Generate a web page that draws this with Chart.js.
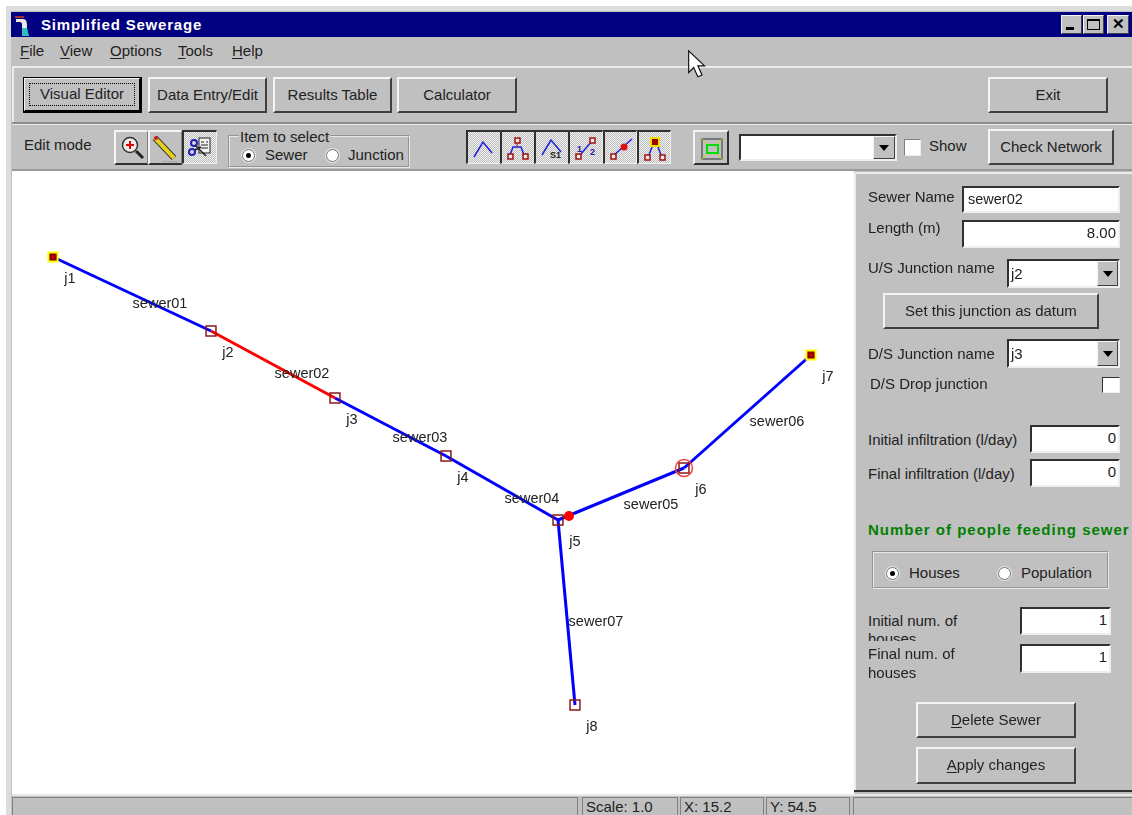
<!DOCTYPE html>
<html>
<head>
<meta charset="utf-8">
<title>Simplified Sewerage</title>
<script src="https://cdn.jsdelivr.net/npm/chart.js@4/dist/chart.umd.min.js"></script>
<style>
  html, body { margin: 0; padding: 0; background: #fff; }
  body { width: 1132px; height: 815px; overflow: hidden; position: relative; font: 15px "Liberation Sans", Arial, sans-serif; color: #222; }
  #win { position: absolute; left: 0; top: 0; width: 1132px; height: 815px; overflow: hidden; filter: blur(0.35px); }
  #win div, #win svg, #win canvas { position: absolute; }
  .bg { background: #c0c0c0; }
  .txt { white-space: nowrap; line-height: 18px; }
  .btn { background: #c0c0c0; border-top: 2px solid #f4f4f4; border-left: 2px solid #f4f4f4; border-right: 2px solid #404040; border-bottom: 2px solid #404040; box-sizing: border-box; display: flex; align-items: center; justify-content: center; white-space: nowrap; padding-bottom: 2px; }
  .sunken { background: #fff; border-top: 2px solid #303030; border-left: 2px solid #303030; border-right: 2px solid #eee; border-bottom: 2px solid #eee; box-sizing: border-box; line-height: 22px; white-space: nowrap; padding: 0 2px; font-size: 14.5px; }
  .right { text-align: right; font-size: 15px; }
  .dither { background: repeating-conic-gradient(#bdbdbd 0 25%, #f2f2f2 0 50%) 0 0/2px 2px; border-top: 2px solid #303030; border-left: 2px solid #303030; border-right: 1px solid #eee; border-bottom: 1px solid #eee; box-sizing: border-box; }
  .tool { background: #c0c0c0; border-top: 2px solid #f4f4f4; border-left: 2px solid #f4f4f4; border-right: 1px solid #808080; border-bottom: 2px solid #303030; box-sizing: border-box; }
  .group { border: 2px groove #e8e8e8; box-sizing: border-box; }
  .radio { width: 13px; height: 13px; border-radius: 50%; background: #fff; border: 1px solid #707070; box-sizing: border-box; box-shadow: 0 0 0 1px #e8e8e8; }
  .dot { width: 5px; height: 5px; left: 3px; top: 3px; background: #000; border-radius: 50%; }
  .arrow { background: #c0c0c0; border-top: 1px solid #f4f4f4; border-left: 1px solid #f4f4f4; border-right: 1px solid #404040; border-bottom: 1px solid #404040; box-sizing: border-box; }
  .arrow::after { content: ""; position: absolute; left: 50%; top: 50%; margin: -3px 0 0 -5px; border-left: 5px solid transparent; border-right: 5px solid transparent; border-top: 6px solid #000; }
  u { text-underline-offset: 2px; }
</style>
</head>
<body>
<div id="win">
  <!-- window frame -->
  <div style="left:6px;top:6px;width:1126px;height:809px;background:#dcdcdc"></div>
  <div class="bg" style="left:11px;top:11px;width:1121px;height:804px"></div>

  <!-- title bar -->
  <div style="left:11px;top:12px;width:1121px;height:25px;background:#000080"></div>
  <svg style="left:14px;top:13px" width="16" height="24" viewBox="0 0 16 24">
    <path d="M1 3h9v2H1z" fill="#a03030"/><path d="M2 6h7c3 0 4 3 4 6v4H8v-5c0-1-1-2-2-2H2z" fill="#e8e8e8"/>
    <path d="M8 15h5l2 8H8z" fill="#30c0c0"/>
  </svg>
  <div class="txt" style="left:41px;top:16px;color:#fff;font-weight:bold;font-size:15px;letter-spacing:.8px">Simplified Sewerage</div>
  <div class="btn" style="left:1061px;top:15px;width:21px;height:19px;border-width:1px"><div style="left:4px;bottom:3px;width:8px;height:3px;background:#000"></div></div>
  <div class="btn" style="left:1083px;top:15px;width:21px;height:19px;border-width:1px"><div style="left:3px;top:3px;width:13px;height:11px;border:1px solid #000;border-top-width:2px;box-sizing:border-box"></div></div>
  <div class="btn" style="left:1107px;top:15px;width:22px;height:19px;border-width:1px;font-weight:bold;font-size:15px;color:#000">✕</div>

  <!-- menu -->
  <div class="txt" style="left:20px;top:42px"><u>F</u>ile</div>
  <div class="txt" style="left:60px;top:42px"><u>V</u>iew</div>
  <div class="txt" style="left:110px;top:42px"><u>O</u>ptions</div>
  <div class="txt" style="left:178px;top:42px"><u>T</u>ools</div>
  <div class="txt" style="left:232px;top:42px"><u>H</u>elp</div>
  <div style="left:12px;top:66px;width:1120px;height:2px;background:#ececec"></div>
  <div style="left:12px;top:68px;width:2px;height:54px;background:#ececec"></div>
  <div style="left:12px;top:122px;width:1120px;height:2px;background:#8c8c8c"></div>
  <div style="left:12px;top:124px;width:1120px;height:1px;background:#ececec"></div>

  <!-- main buttons -->
  <div class="btn" style="left:23px;top:77px;width:119px;height:36px;border-right:3px solid #000;border-bottom:3px solid #000;outline:1px solid #000;outline-offset:-1px"><span>Visual Editor</span><div style="left:4px;top:4px;right:4px;bottom:4px;border:1px dotted #000"></div></div>
  <div class="btn" style="left:148px;top:77px;width:119px;height:36px">Data Entry/Edit</div>
  <div class="btn" style="left:273px;top:77px;width:119px;height:36px">Results Table</div>
  <div class="btn" style="left:397px;top:77px;width:120px;height:36px">Calculator</div>
  <div class="btn" style="left:988px;top:77px;width:120px;height:36px">Exit</div>

  <!-- edit row -->
  <div class="txt" style="left:24px;top:136px">Edit mode</div>
  <div class="tool" style="left:114px;top:130px;width:34px;height:35px">
    <svg style="left:2px;top:2px" width="28" height="28" viewBox="0 0 28 28"><circle cx="12" cy="11" r="7.5" fill="#eee" stroke="#333" stroke-width="1.5"/><path d="M12 7v8M8 11h8" stroke="#e00000" stroke-width="2"/><path d="M18 17l7 7" stroke="#222" stroke-width="3"/></svg>
  </div>
  <div class="tool" style="left:148px;top:130px;width:34px;height:35px">
    <svg style="left:2px;top:2px" width="28" height="28" viewBox="0 0 28 28"><path d="M3 4l19 20" stroke="#222" stroke-width="6"/><path d="M3 4l19 20" stroke="#e8d020" stroke-width="4"/><circle cx="4" cy="4" r="2" fill="#c02020"/><path d="M10 28h16" stroke="#888"/></svg>
  </div>
  <div class="dither" style="left:182px;top:130px;width:35px;height:34px">
    <svg style="left:2px;top:2px" width="28" height="28" viewBox="0 0 28 28"><rect x="13" y="4" width="11" height="15" fill="#f4f4f4" stroke="#222"/><path d="M15 8h3M20 8h2M15 11h7M15 14h7" stroke="#222"/><circle cx="8" cy="9" r="3" fill="none" stroke="#2020c0" stroke-width="2"/><circle cx="6" cy="18" r="3" fill="none" stroke="#2020c0" stroke-width="2"/><path d="M9 11l11 11M9 16l6-3" stroke="#222" stroke-width="1.5"/></svg>
  </div>
  <div class="group" style="left:228px;top:135px;width:182px;height:33px"></div>
  <div class="txt bg" style="left:239px;top:128px;padding:0 1px">Item to select</div>
  <div class="radio" style="left:242px;top:149px"><div class="dot"></div></div>
  <div class="txt" style="left:265px;top:146px">Sewer</div>
  <div class="radio" style="left:326px;top:149px"></div>
  <div class="txt" style="left:348px;top:146px">Junction</div>

  <div class="dither" style="left:466px;top:130px;width:35px;height:34px"><svg style="left:3px;top:3px" width="26" height="26" viewBox="0 0 26 26"><path d="M3 22l9-15 9 11" fill="none" stroke="#2020e0" stroke-width="1.5"/></svg></div>
  <div class="dither" style="left:500px;top:130px;width:35px;height:34px"><svg style="left:3px;top:3px" width="26" height="26" viewBox="0 0 26 26"><path d="M5 20l3-8h8l3 8" fill="none" stroke="#2020e0" stroke-width="1.5"/><path d="M10 3h5v5h-5zM3 19h5v5H3zM18 19h5v5h-5z" fill="#eee" stroke="#a01010" stroke-width="1.5"/><path d="M12 8v4" stroke="#a01010"/></svg></div>
  <div class="dither" style="left:534px;top:130px;width:35px;height:34px"><svg style="left:3px;top:3px" width="26" height="26" viewBox="0 0 26 26"><path d="M3 20l9-15 10 12" fill="none" stroke="#2020e0" stroke-width="1.5"/><text x="11" y="23" font-size="9" font-weight="bold" fill="#222" font-family="Liberation Sans">S1</text></svg></div>
  <div class="dither" style="left:568px;top:130px;width:35px;height:34px"><svg style="left:3px;top:3px" width="26" height="26" viewBox="0 0 26 26"><path d="M7 20L19 6" stroke="#2020e0" stroke-width="1.5"/><path d="M17 3h5v5h-5zM3 19h5v5H3z" fill="#eee" stroke="#a01010" stroke-width="1.5"/><text x="4" y="17" font-size="9" font-weight="bold" fill="#2020a0" font-family="Liberation Sans">1</text><text x="17" y="20" font-size="9" font-weight="bold" fill="#2020a0" font-family="Liberation Sans">2</text></svg></div>
  <div class="dither" style="left:603px;top:130px;width:34px;height:34px"><svg style="left:3px;top:3px" width="26" height="26" viewBox="0 0 26 26"><path d="M6 20L24 4" stroke="#2020e0" stroke-width="1.5"/><circle cx="16" cy="12" r="3.5" fill="#e01010"/><path d="M3 19h5v5H3z" fill="#eee" stroke="#a01010" stroke-width="1.5"/></svg></div>
  <div class="dither" style="left:637px;top:130px;width:34px;height:34px"><svg style="left:3px;top:3px" width="26" height="26" viewBox="0 0 26 26"><path d="M10 12l-3 8M16 12l3 8" stroke="#2020e0" stroke-width="1.5"/><rect x="9" y="3" width="8" height="8" fill="#a00000" stroke="#f0e000" stroke-width="2"/><path d="M3 20h5v5H3zM18 20h5v5h-5z" fill="#eee" stroke="#a01010" stroke-width="1.5"/></svg></div>

  <div class="tool" style="left:693px;top:130px;width:36px;height:35px;border-right:2px solid #303030">
    <svg style="left:5px;top:5px" width="24" height="24" viewBox="0 0 24 24"><rect x="2" y="2" width="20" height="20" fill="none" stroke="#303030"/><path d="M2 2l6 6M22 2l-6 6M2 22l6-6M22 22l-6-6" stroke="#d8d000"/><rect x="7" y="8" width="11" height="8" fill="none" stroke="#00e000" stroke-width="2"/></svg>
  </div>
  <div class="sunken" style="left:739px;top:134px;width:158px;height:27px"></div>
  <div class="arrow" style="left:873px;top:136px;width:22px;height:23px"></div>
  <div class="sunken" style="left:904px;top:139px;width:17px;height:17px;border-width:1px;border-color:#808080 #eee #eee #808080"></div>
  <div class="txt" style="left:929px;top:137px">Show</div>
  <div class="btn" style="left:988px;top:129px;width:126px;height:36px">Check Network</div>

  <!-- drawing area -->
  <div style="left:12px;top:169px;width:842px;height:2px;background:#9a9a9a"></div>
  <div style="left:854px;top:169px;width:278px;height:2px;background:#9a9a9a"></div>
  <canvas id="network" width="842" height="623" style="left:12px;top:171px;background:#fff"></canvas>
  <div style="left:853px;top:172px;width:279px;height:2px;background:#ececec"></div>
  <div style="left:854px;top:172px;width:2px;height:618px;background:#ececec"></div>

  <!-- side panel -->
  <div class="txt" style="left:868px;top:188px">Sewer Name</div>
  <div class="sunken" style="left:962px;top:186px;width:158px;height:27px;padding-left:4px">sewer02</div>
  <div class="txt" style="left:868px;top:219px">Length (m)</div>
  <div class="sunken right" style="left:962px;top:220px;width:158px;height:28px">8.00</div>
  <div class="txt" style="left:868px;top:259px">U/S Junction name</div>
  <div class="sunken" style="left:1007px;top:259px;width:113px;height:29px;line-height:26px;font-size:15px">j2</div>
  <div class="arrow" style="left:1097px;top:261px;width:21px;height:25px"></div>
  <div class="btn" style="left:883px;top:293px;width:216px;height:36px">Set this junction as datum</div>
  <div class="txt" style="left:868px;top:345px">D/S Junction name</div>
  <div class="sunken" style="left:1007px;top:339px;width:113px;height:29px;line-height:26px;font-size:15px">j3</div>
  <div class="arrow" style="left:1097px;top:341px;width:21px;height:25px"></div>
  <div class="txt" style="left:870px;top:375px">D/S Drop junction</div>
  <div class="sunken" style="left:1102px;top:377px;width:18px;height:16px;border-width:1px;border-color:#303030 #eee #eee #303030"></div>
  <div class="txt" style="left:868px;top:431px">Initial infiltration (l/day)</div>
  <div class="sunken right" style="left:1030px;top:425px;width:90px;height:28px">0</div>
  <div class="txt" style="left:868px;top:465px">Final infiltration (l/day)</div>
  <div class="sunken right" style="left:1030px;top:459px;width:90px;height:28px">0</div>
  <div class="txt" style="left:868px;top:521px;color:#008000;font-weight:bold;font-size:15px;letter-spacing:1px">Number of people feeding sewer</div>
  <div class="group" style="left:872px;top:551px;width:237px;height:38px"></div>
  <div class="radio" style="left:886px;top:567px"><div class="dot"></div></div>
  <div class="txt" style="left:909px;top:564px">Houses</div>
  <div class="radio" style="left:998px;top:567px"></div>
  <div class="txt" style="left:1021px;top:564px">Population</div>
  <div class="txt" style="left:868px;top:612px">Initial num. of</div>
  <div style="left:868px;top:630px;width:100px;height:11px;overflow:hidden"><div class="txt" style="left:0;top:0">houses</div></div>
  <div class="sunken right" style="left:1020px;top:607px;width:91px;height:28px">1</div>
  <div class="txt" style="left:868px;top:645px">Final num. of</div>
  <div class="txt" style="left:868px;top:664px">houses</div>
  <div class="sunken right" style="left:1020px;top:644px;width:91px;height:29px">1</div>
  <div class="btn" style="left:916px;top:702px;width:160px;height:36px"><span><u>D</u>elete Sewer</span></div>
  <div class="btn" style="left:916px;top:747px;width:160px;height:37px"><span><u>A</u>pply changes</span></div>

  <!-- status bar -->
  <div style="left:854px;top:790px;width:278px;height:2px;background:#303030"></div>
  <div style="left:12px;top:794px;width:1120px;height:2px;background:#e8e8e8"></div>
  <div style="left:12px;top:797px;width:566px;height:20px;border:1px solid #808080;box-sizing:border-box"></div>
  <div style="left:582px;top:797px;width:96px;height:20px;border:1px solid #808080;box-sizing:border-box"></div>
  <div style="left:680px;top:797px;width:84px;height:20px;border:1px solid #808080;box-sizing:border-box"></div>
  <div style="left:766px;top:797px;width:84px;height:20px;border:1px solid #808080;box-sizing:border-box"></div>
  <div style="left:853px;top:797px;width:290px;height:20px;border:1px solid #808080;box-sizing:border-box"></div>
  <div class="txt" style="left:586px;top:798px">Scale: 1.0</div>
  <div class="txt" style="left:684px;top:798px">X: 15.2</div>
  <div class="txt" style="left:770px;top:798px">Y: 54.5</div>

  <!-- mouse pointer -->
  <svg style="left:687px;top:49px" width="20" height="32" viewBox="0 0 24 38"><path d="M2 2v26l6-6 5 11 5-2-5-11h8z" fill="#fff" stroke="#111" stroke-width="1.4"/></svg>
</div>

<script>
// junctions (drawing units, origin top left of the drawing area)
const junctionNames = ['j1', 'j2', 'j3', 'j4', 'j5', 'j6', 'j7', 'j8'];
const junctionX = [41, 199, 323, 434, 546, 672, 799, 563];
const junctionY = [86, 160, 227, 285, 349, 297, 184, 534];
const headJunctions = ['j1', 'j7'];

// sewers
const sewerNames = ['sewer01', 'sewer02', 'sewer03', 'sewer04', 'sewer05', 'sewer06', 'sewer07'];
const sewerFrom = ['j1', 'j2', 'j3', 'j4', 'j5', 'j6', 'j5'];
const sewerTo = ['j2', 'j3', 'j4', 'j5', 'j6', 'j7', 'j8'];
const sewerLabelX = [148, 290, 408, 520, 639, 765, 584];
const sewerLabelY = [133, 203, 267, 328, 334, 251, 451];
const selectedSewer = 'sewer02';

// extra marks
const dropPoint = { x: 557, y: 345 };
const markedJunction = 'j6';

const pointOf = name => {
  const i = junctionNames.indexOf(name);
  return { x: junctionX[i], y: junctionY[i] };
};

const nodeDatasets = [
  {
    label: 'head centre',
    data: headJunctions.map(pointOf),
    pointStyle: 'circle',
    pointRadius: 1.5,
    pointBackgroundColor: '#e00000',
    pointBorderWidth: 0
  },
  {
    label: 'head junctions',
    data: headJunctions.map(pointOf),
    pointStyle: 'rect',
    pointRadius: 6.5,
    pointBackgroundColor: '#8b0000',
    pointBorderColor: '#ffff00',
    pointBorderWidth: 2
  },
  {
    label: 'junctions',
    data: junctionNames.filter(n => !headJunctions.includes(n)).map(pointOf),
    pointStyle: 'rect',
    pointRadius: 7,
    pointBackgroundColor: 'rgba(0,0,0,0)',
    pointBorderColor: '#8b1a1a',
    pointBorderWidth: 1.5
  },
  {
    label: 'marked',
    data: [pointOf(markedJunction)],
    pointStyle: 'circle',
    pointRadius: 8.5,
    pointBackgroundColor: 'rgba(0,0,0,0)',
    pointBorderColor: '#f04040',
    pointBorderWidth: 1.5
  },
  {
    label: 'drop',
    data: [dropPoint],
    pointStyle: 'circle',
    pointRadius: 5,
    pointBackgroundColor: '#ff0000',
    pointBorderWidth: 0
  }
];

const sewerDatasets = sewerNames.map((name, i) => ({
  label: name,
  data: [pointOf(sewerFrom[i]), pointOf(sewerTo[i])],
  showLine: true,
  borderColor: name === selectedSewer ? '#ff0000' : '#0000ff',
  borderWidth: 3,
  pointRadius: 0
}));

// names next to the marks
const networkLabels = {
  id: 'networkLabels',
  afterDatasetsDraw(chart) {
    const { ctx, scales } = chart;
    ctx.save();
    ctx.font = '14.5px "Liberation Sans", Arial, sans-serif';
    ctx.fillStyle = '#222';
    ctx.textAlign = 'center';
    ctx.textBaseline = 'middle';
    junctionNames.forEach((name, i) => {
      ctx.fillText(name, scales.x.getPixelForValue(junctionX[i]) + 17, scales.y.getPixelForValue(junctionY[i]) + 22);
    });
    sewerNames.forEach((name, i) => {
      ctx.fillText(name, scales.x.getPixelForValue(sewerLabelX[i]), scales.y.getPixelForValue(sewerLabelY[i]));
    });
    ctx.restore();
  }
};

new Chart(document.getElementById('network').getContext('2d'), {
  type: 'scatter',
  data: { datasets: [...nodeDatasets, ...sewerDatasets] },
  options: {
    responsive: false,
    animation: false,
    layout: { autoPadding: false },
    plugins: { legend: { display: false }, tooltip: { enabled: false } },
    scales: {
      x: { type: 'linear', display: false, min: 0, max: 842 },
      y: { type: 'linear', display: false, min: 0, max: 623, reverse: true }
    }
  },
  plugins: [networkLabels]
});
</script>
</body>
</html>
